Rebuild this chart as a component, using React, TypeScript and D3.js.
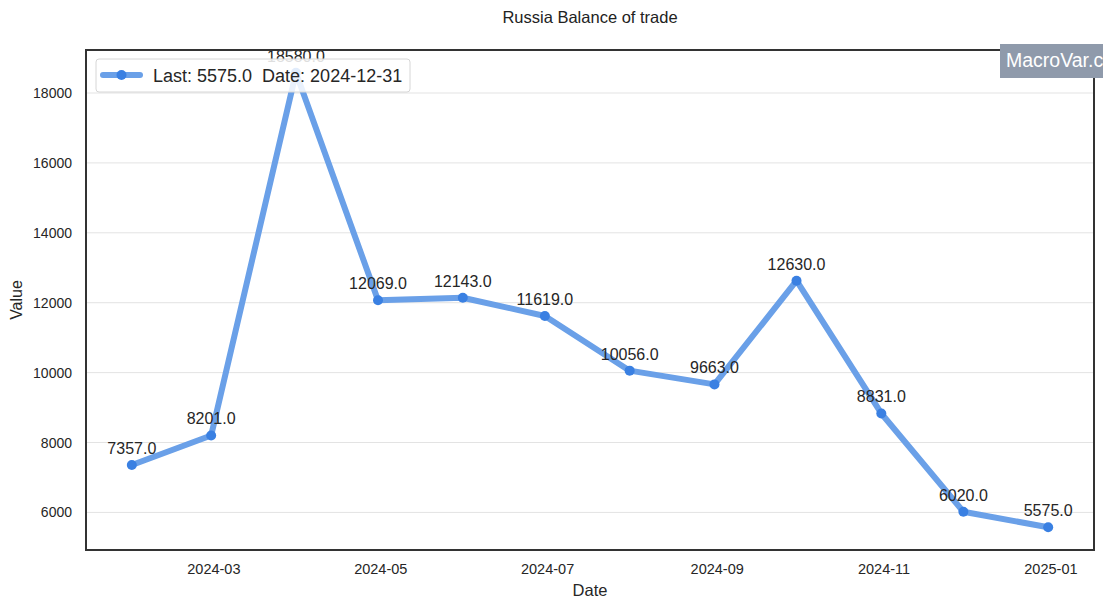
import React from "react";
import * as d3 from "d3";

const dates = ["2024-01-31","2024-02-29","2024-03-31","2024-04-30","2024-05-31","2024-06-30","2024-07-31","2024-08-31","2024-09-30","2024-10-31","2024-11-30","2024-12-31"];
const values = [7357, 8201, 18580, 12069, 12143, 11619, 10056, 9663, 12630, 8831, 6020, 5575];
const xTicks = ["2024-03-01","2024-05-01","2024-07-01","2024-09-01","2024-11-01","2025-01-01"];
const yTicks = [6000, 8000, 10000, 12000, 14000, 16000, 18000];
const title = "Russia Balance of trade";
const legendText = "Last: 5575.0\u00a0\u00a0Date: 2024-12-31";

const W = 1103, H = 608;
const L = 86, R = 1094, T = 50, B = 550;
const FONT = "'Liberation Sans', Arial, sans-serif";

export default function App() {
  const parse = d3.utcParse("%Y-%m-%d");
  const ds = dates.map(d => parse(d)!);
  const t0 = +ds[0], t1 = +ds[ds.length - 1];
  const xm = (t1 - t0) * 0.05;
  const x = d3.scaleUtc().domain([new Date(t0 - xm), new Date(t1 + xm)]).range([L, R]);
  const vmin = d3.min(values)!, vmax = d3.max(values)!;
  const ym = (vmax - vmin) * 0.05;
  const y = d3.scaleLinear().domain([vmin - ym, vmax + ym]).range([B, T]);
  const pts = ds.map((d, i) => [x(d), y(values[i])] as [number, number]);
  const line = d3.line()(pts) || "";
  const fmt = d3.utcFormat("%Y-%m");
  const lineColor = "#6aa0e8";
  const markColor = "#3a80e2";

  return (
    <svg width={W} height={H} style={{ position: "absolute", left: 0, top: 0, background: "#fff" }} fontFamily={FONT}>
      <rect x={0} y={0} width={W} height={H} fill="#fff" />
      <text x={(L + R) / 2} y={23} textAnchor="middle" fontSize={16.5} fill="#222">{title}</text>
      {yTicks.map(v => (
        <g key={v}>
          <line x1={L} x2={R} y1={y(v)} y2={y(v)} stroke="#e3e3e3" strokeWidth={1} />
          <text x={72} y={y(v) + 5} textAnchor="end" fontSize={14} fill="#262626">{v}</text>
        </g>
      ))}
      {xTicks.map(t => {
        const d = parse(t)!;
        return <text key={t} x={x(d)} y={574} textAnchor="middle" fontSize={14.5} fill="#262626">{fmt(d)}</text>;
      })}
      <text x={(L + R) / 2} y={595.5} textAnchor="middle" fontSize={16.5} fill="#262626">Date</text>
      <text transform={`translate(22,${(T + B) / 2}) rotate(-90)`} textAnchor="middle" fontSize={16} fill="#262626">Value</text>
      <path d={line} fill="none" stroke={lineColor} strokeWidth={6} strokeLinejoin="round" strokeLinecap="round" />
      {pts.map((p, i) => <circle key={i} cx={p[0]} cy={p[1]} r={5} fill={markColor} />)}
      {pts.map((p, i) => (
        <text key={"l" + i} x={p[0]} y={p[1] - 11} textAnchor="middle" fontSize={16} fill="#262626">{values[i].toFixed(1)}</text>
      ))}
      <rect x={L} y={T} width={R - L} height={B - T} fill="none" stroke="#333" strokeWidth={2} />
      <g>
        <rect x={96} y={59} width={314} height={33} rx={3} fill="#fff" fillOpacity={0.85} stroke="#d6d6d6" />
        <line x1={103} x2={140} y1={75} y2={75} stroke={lineColor} strokeWidth={6} strokeLinecap="round" />
        <circle cx={121.5} cy={75} r={5} fill={markColor} />
        <text x={153} y={81.5} fontSize={18} fill="#262626">{legendText}</text>
      </g>
      <rect x={1000} y={44} width={110} height={34} fill="#8f9aab" />
      <text x={1006} y={67} fontSize={19.5} fill="#fff">MacroVar.com</text>
    </svg>
  );
}
